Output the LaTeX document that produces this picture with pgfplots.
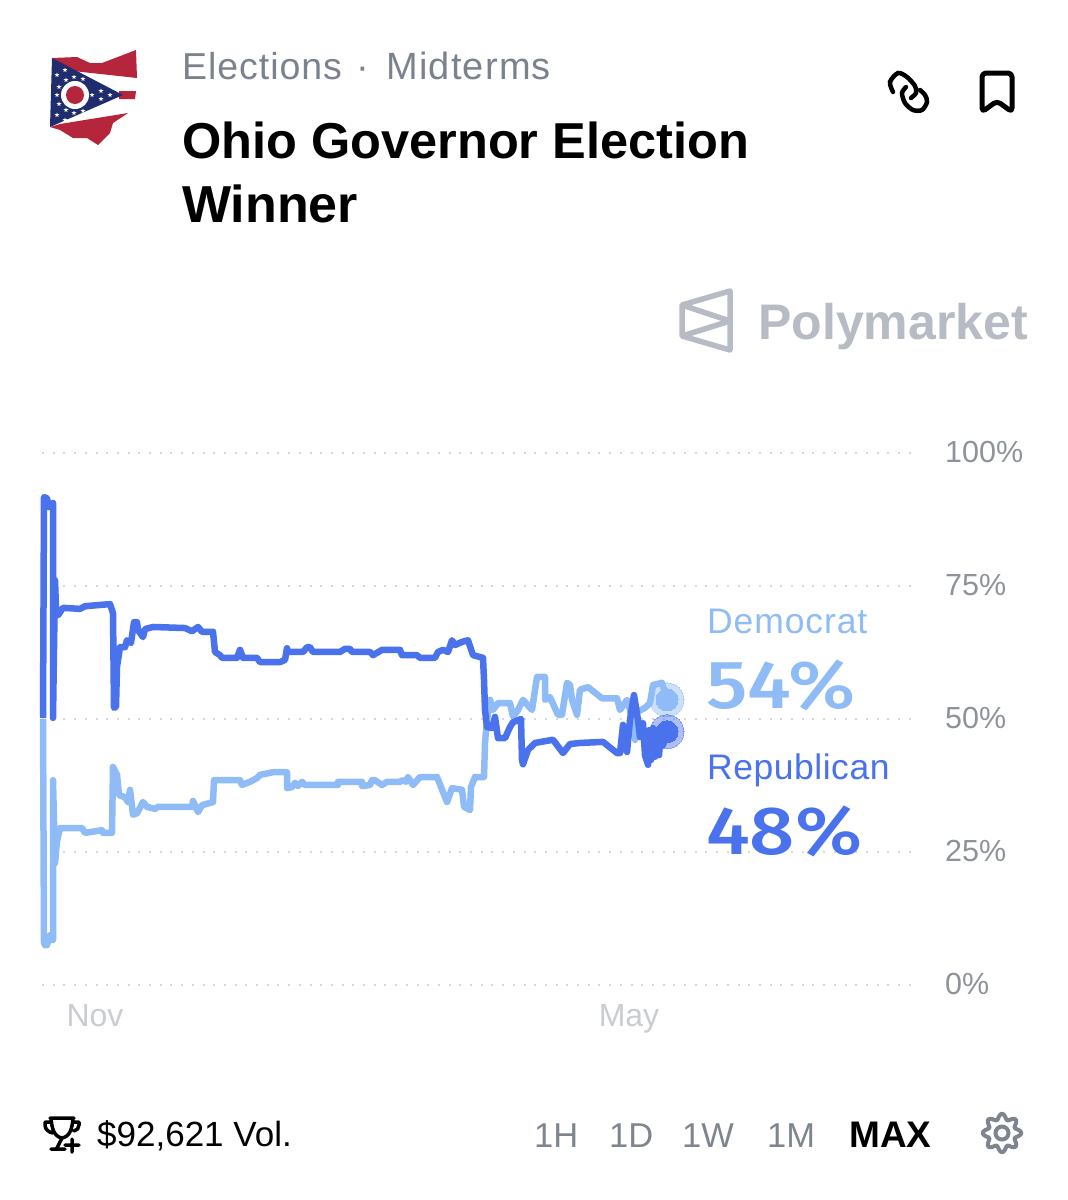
\documentclass[border=0pt]{standalone}
\usepackage{graphicx}
\usepackage{pgfplots}
\pgfplotsset{compat=1.18}
\usepackage{fontspec}
\setmainfont{Liberation Sans}
\newfontfamily\medf{Fira Sans Medium}
\newfontfamily\spc[LetterSpace=2.5]{Liberation Sans}
\usetikzlibrary{shapes.geometric}
\definecolor{rep}{HTML}{4A72EC}
\definecolor{dem}{HTML}{8FBBF6}
\definecolor{tickg}{HTML}{8E939B}
\definecolor{mon}{HTML}{C9CCD1}
\definecolor{griddot}{HTML}{D5D7DB}
\definecolor{head}{HTML}{7C828D}
\definecolor{logo}{HTML}{B7BBC3}
\definecolor{btn}{HTML}{7F858F}
\definecolor{ored}{HTML}{B5263C}
\definecolor{onavy}{HTML}{1F2C6E}
\newcommand{\fs}[1]{\fontsize{#1}{#1}\selectfont}
\begin{document}
\begin{tikzpicture}[x=1pt,y=-1pt]
\path (0,0) rectangle (1068,1200);
% Ohio flag
\fill[ored] (52,58)--(77,57)--(90,63)--(102,63)--(136,50)--(137,78)--(73,71)--cycle;
\fill[ored] (119,91)--(136,91)--(135,99)--(119,99)--cycle;
\fill[ored] (60,124)--(128,113)--(113,123)--(110,133)--(98,145)--(87,138)--(73,138)--(60,130)--(50,127)--cycle;
\fill[onavy] (52,58)--(123,95)--(50,127)--cycle;
\fill[white] (75,95) circle (14);
\fill[ored] (75,95) circle (9);
\foreach \a/\b in {57/75,65/70,74/77,83/79,66/80,59/87,57/95,59/104,57/115,65/120,66/110,74/113,83/111,92/95,101/91,101/99,110/95}
  \node[star,star points=5,star point ratio=2.4,fill=white,inner sep=0,minimum size=5pt] at (\a,\b) {};
% headings
\node[anchor=base west,inner sep=0,text=head] at (182,79) {\fs{37.5}\spc Elections};
\node[anchor=base,inner sep=0,text=head] at (363,79) {\fs{38}·};
\node[anchor=base west,inner sep=0,text=head] at (386,79) {\fs{38}\addfontfeature{LetterSpace=3.2}Midterms};
\node[anchor=base west,inner sep=0,text=black] at (182,158) {\fs{50.5}\bfseries Ohio Governor Election};
\node[anchor=base west,inner sep=0,text=black] at (182,222) {\fs{52}\bfseries Winner};
% link icon
\draw[black,line width=4.5,line cap=round] plot[smooth] coordinates {(893,92)(890,82)(898,73)(907,77)(915,86)(916,93)(911,98)};
\draw[black,line width=4.5,line cap=round] plot[smooth] coordinates {(906,87)(902,93)(905,103)(913,110)(922,110)(927,102)(925,95)(920,90)};
% bookmark icon
\draw[black,line width=5,line cap=round,line join=round,rounded corners=4] (982,112)--(982,73)--(1012,73)--(1012,112)--(997,101)--cycle;
% Polymarket logo
\draw[logo,line width=5.5,line join=round] (682,305)--(730,291)--(730,350)--(682,336)--cycle (682,305)--(730,321)--(682,336);
\node[anchor=base west,inner sep=0,text=logo] at (758,339) {\fs{50}\bfseries Polymarket};
% chart
\begin{axis}[
  at={(42pt,-985pt)},anchor=south west,scale only axis,
  width=875pt,height=532pt,
  xmin=42,xmax=917,ymin=0,ymax=100,
  axis line style={draw=none},
  major tick length=0pt,
  ytick={0,25,50,75,100},
  yticklabels={0\%,25\%,50\%,75\%,100\%},
  yticklabel pos=right,
  yticklabel style={anchor=west,inner sep=0pt,xshift=28pt,yshift=1pt,text=tickg,font=\fs{30.5}},
  xtick={95,629},
  xticklabels={Nov,May},
  xticklabel style={anchor=north,inner sep=0pt,yshift=-19pt,text=mon,font=\fs{32}},
  xmajorgrids=false,ymajorgrids=true,
  grid style={griddot,line width=2pt,dash pattern=on 2pt off 8.7pt},
  clip=false,
]
\addplot[dem,line width=6.5pt,line join=round] coordinates {
(43,50.0)(44,8)(45,7.5)(47,7.5)(50,9.4)(53,8.5)(53,38.5)(55,22.9)(57,27)(60,29.5)(82,29.5)(85,28.6)(102,29.1)(103,28.6)(112,28.6)(113,41.0)(117,39.5)(119,35.7)(125,35.3)(128,34.4)(130,36.7)(133,32.0)(137,32.3)(143,34.4)(147,33.5)(155,33.1)(158,33.5)(192,33.5)(193,34.6)(198,32.5)(202,33.8)(213,34.4)(214,38.5)(240,38.5)(242,37.6)(250,38.2)(257,38.9)(260,39.5)(273,40.0)(287,40.0)(287,37.0)(292,37.2)(295,38.0)(298,37.4)(302,38.2)(305,37.6)(338,37.6)(338,38.2)(362,38.2)(362,37.4)(370,37.6)(372,38.5)(375,38.5)(382,37.6)(387,38.2)(400,38.2)(403,38.5)(406,38.2)(408,39.1)(413,37.6)(420,39.1)(437,39.1)(447,34.4)(452,37.0)(462,36.7)(464,33.5)(470,32.9)(471,37.2)(475,39.1)(484,39.1)(485,45.5)(487,49.8)(490,53.6)(493,51.7)(498,53.0)(510,53.0)(513,50.4)(518,51.7)(523,53.6)(532,51.7)(537,57.9)(545,57.9)(545,53.6)(550,54.1)(558,50.8)(562,50.8)(567,56.8)(570,56.4)(572,53.6)(577,50.8)(580,55.5)(588,56.0)(602,53.9)(617,53.9)(620,51.7)(627,53.6)(630,51.7)(635,46.1)(637,51.3)(645,52.1)(650,53.0)(653,56.4)(662,56.8)(667,53.6)};
\addplot[rep,line width=6.5pt,line join=round] coordinates {
(43,50.2)(44,91.7)(47,91.5)(49,89.8)(53,90.6)(53,50.2)(55,76.1)(56,71)(58,69.5)(63,70.9)(80,70.7)(85,71.2)(110,71.6)(113,69.9)(114,52.1)(116,52.3)(117,59.8)(120,63.5)(125,63.5)(127,64.8)(131,64.3)(134,68.2)(137,68.2)(138,66.7)(143,65.4)(145,66.9)(153,67.3)(185,67.1)(192,66.5)(198,67.3)(202,66.4)(213,66.4)(215,62.6)(220,62.0)(222,61.5)(237,61.5)(240,63.0)(243,61.5)(257,61.5)(260,60.7)(280,60.7)(285,61.1)(287,63.3)(288,62.6)(303,62.6)(307,63.5)(310,63.5)(313,62.6)(340,62.6)(345,63.2)(350,63.2)(352,62.6)(370,62.6)(373,62.0)(382,63.0)(400,63.0)(402,62.0)(417,62.0)(420,61.5)(435,61.5)(438,62.6)(443,63.0)(448,62.6)(452,64.8)(455,63.9)(462,64.5)(468,64.8)(473,62.0)(483,61.5)(484,57.4)(485,51.7)(487,48.5)(492,48.3)(495,50.4)(498,46.4)(505,46.4)(510,48.5)(513,49.4)(521,50.0)(522,42.3)(523,41.5)(528,44.2)(535,45.5)(553,46.1)(563,43.6)(570,45.3)(580,45.5)(603,45.7)(607,45.1)(617,43.6)(620,43.6)(623,48.9)(627,43.8)(630,49.8)(634,54.5)(638,49.8)(640,46.6)(643,49.2)(645,43.2)(648,41.4)(649,47.9)(651,42.3)(653,48.3)(655,42.9)(657,47.9)(659,43.2)(661,47.9)(663,45.1)(667,47.6)};
\addplot[only marks,mark=*,mark size=17pt,mark options={fill=dem,draw=dem,line width=0pt,opacity=0.45}] coordinates {(667,53.6)};
\addplot[only marks,mark=*,mark size=11pt,mark options={fill=dem,draw=dem,line width=0pt}] coordinates {(667,53.6)};
\addplot[only marks,mark=*,mark size=17pt,mark options={fill=rep,draw=rep,line width=0pt,opacity=0.45}] coordinates {(667,47.6)};
\addplot[only marks,mark=*,mark size=11pt,mark options={fill=rep,draw=rep,line width=0pt}] coordinates {(667,47.6)};
\end{axis}
% end labels
\node[anchor=base west,inner sep=0,text=dem] at (707,633) {\fs{35.5}\spc Democrat};
\node[anchor=base west,inner sep=0,text=dem] at (706,708) {\scalebox{1.17}[1]{\fs{68}\medf 54\%}};
\node[anchor=base west,inner sep=0,text=rep] at (707,779) {\fs{35.5}\addfontfeature{LetterSpace=1.5}Republican};
\node[anchor=base west,inner sep=0,text=rep] at (706,854) {\scalebox{1.17}[1]{\fs{68}\medf 48\%}};
% footer
\draw[black,line width=3.5,line join=round,line cap=round] (50,1118)--(74,1118) (51,1118) to[out=-85,in=170] (62,1138) to[out=10,in=-95] (73,1118) (50,1122)--(45,1122)--(45,1125) to[out=-90,in=170] (53,1133) (74,1122)--(79,1122)--(79,1125) to[out=-90,in=10] (74,1131) (62,1138)--(57,1148) (51,1149)--(65,1149) (72,1139)--(72,1152) (65,1145)--(79,1145);
\node[anchor=base west,inner sep=0,text=black] at (97,1146) {\fs{35}\$92,621 Vol.};
\node[anchor=base west,inner sep=0,text=btn] at (534,1147) {\fs{34.5}1H};
\node[anchor=base west,inner sep=0,text=btn] at (609,1147) {\fs{34.5}1D};
\node[anchor=base west,inner sep=0,text=btn] at (682,1147) {\fs{34.5}1W};
\node[anchor=base west,inner sep=0,text=btn] at (767,1147) {\fs{34.5}1M};
\node[anchor=base west,inner sep=0,text=black] at (849,1147) {\fs{37}\bfseries MAX};
% gear
\draw[btn,line width=4,line join=round] plot[smooth cycle,domain=0:355,samples=72] ({1002+(16.5+2.8*cos(8*\x))*cos(\x)},{1133+(16.5+2.8*cos(8*\x))*sin(\x)});
\draw[btn,line width=4] (1002,1133) circle (6.5);
\end{tikzpicture}
\end{document}
